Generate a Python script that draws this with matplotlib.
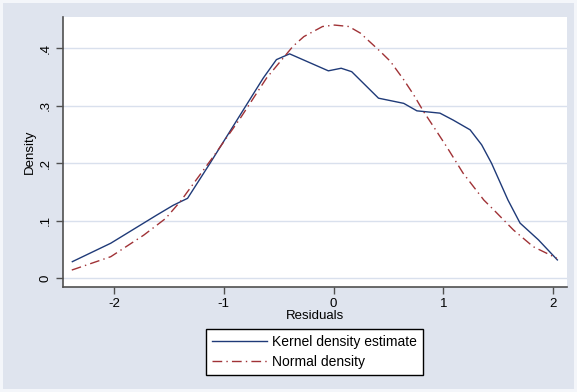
import matplotlib
matplotlib.use('Agg')
import matplotlib.pyplot as plt

# Kernel density estimate of the residuals
kern_x = [-2.38, -2.03, -1.61, -1.46, -1.33, -1.125, -0.85, -0.64, -0.52, -0.40,
          -0.047, 0.07, 0.166, 0.41, 0.64, 0.76, 0.97, 1.09, 1.245, 1.35,
          1.44, 1.59, 1.70, 1.867, 2.04]
kern_y = [0.029, 0.061, 0.110, 0.127, 0.139, 0.200, 0.284, 0.348, 0.380, 0.390,
          0.3605, 0.365, 0.359, 0.313, 0.304, 0.291, 0.287, 0.275, 0.258, 0.232,
          0.200, 0.136, 0.096, 0.067, 0.032]

# Normal density overlay
norm_x = [-2.385, -2.03, -1.73, -1.53, -1.385, -1.34, -1.095, -0.85, -0.61, -0.37,
          -0.27, -0.10, 0.01, 0.14, 0.245, 0.427, 0.518, 0.64, 0.73, 0.82,
          0.91, 1.03, 1.18, 1.37, 1.46, 1.64, 1.82, 2.035]
norm_y = [0.0144, 0.0376, 0.075, 0.104, 0.136, 0.148, 0.2115, 0.278, 0.348, 0.403,
          0.420, 0.4375, 0.440, 0.4375, 0.426, 0.394, 0.377, 0.345, 0.319, 0.290,
          0.264, 0.229, 0.183, 0.136, 0.119, 0.084, 0.055, 0.035]

xticks = [-2, -1, 0, 1, 2]
yticks = [0, 0.1, 0.2, 0.3, 0.4]
ytick_labels = ['0', '.1', '.2', '.3', '.4']

plt.rcParams['font.family'] = ['Liberation Sans', 'DejaVu Sans']
plt.rcParams['font.size'] = 9.5

bg = '#dfe4ee'
fig = plt.figure(figsize=(5.77, 3.92), dpi=100)
fig.patch.set_facecolor(bg)
fig.patch.set_edgecolor('#f4f6fa')
fig.patch.set_linewidth(3)

ax = fig.add_axes([0.1092, 0.2679, 0.8735, 0.6887])
ax.set_facecolor('white')
ax.set_xlim(-2.465, 2.128)
ax.set_ylim(-0.015, 0.454)

for y in yticks:
    ax.axhline(y, color='#d9e0ed', lw=1.0, zorder=0)

ax.plot(kern_x, kern_y, color='#1f3a78', lw=1.0, label='Kernel density estimate')
ax.plot(norm_x, norm_y, color='#a03236', lw=1.0, linestyle=(0, (7, 3, 1, 3)),
        label='Normal density')

for side in ['top', 'right']:
    ax.spines[side].set_visible(False)
for side in ['left', 'bottom']:
    ax.spines[side].set_color('#505050')
    ax.spines[side].set_linewidth(1.2)

ax.set_xticks(xticks)
ax.set_xticklabels([str(t) for t in xticks])
ax.set_yticks(yticks)
ax.set_yticklabels(ytick_labels, rotation=90, va='center')
ax.tick_params(direction='out', length=5, width=1, color='#505050', pad=3,
               labelsize=9.5)

ax.set_xlabel('Residuals', labelpad=0, fontsize=9.5)
ax.set_ylabel('Density', labelpad=3, fontsize=9.5)

leg = fig.legend(loc='center', bbox_to_anchor=(0.5455, 0.102), frameon=True,
                 fancybox=False, edgecolor='black', framealpha=1,
                 handlelength=3.9, handletextpad=0.4, borderpad=0.45,
                 labelspacing=0.4, fontsize=10, borderaxespad=0)
leg.get_frame().set_linewidth(1.0)
for t in leg.get_texts():
    t.set_ha('left')

fig.savefig('out.png', dpi=100, facecolor=fig.get_facecolor(),
            edgecolor=fig.get_edgecolor())
